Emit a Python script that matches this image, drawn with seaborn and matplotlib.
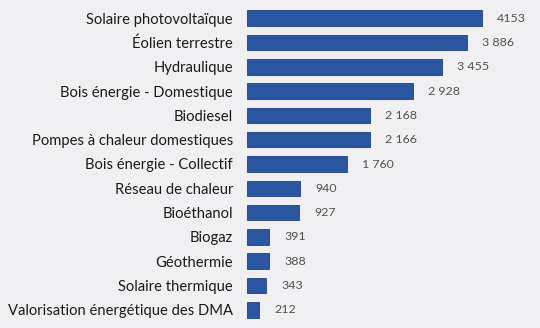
import matplotlib
matplotlib.use("Agg")
import matplotlib.pyplot as plt
import seaborn as sns
import pandas as pd

categories = [
    "Solaire photovoltaïque",
    "Éolien terrestre",
    "Hydraulique",
    "Bois énergie - Domestique",
    "Biodiesel",
    "Pompes à chaleur domestiques",
    "Bois énergie - Collectif",
    "Réseau de chaleur",
    "Bioéthanol",
    "Biogaz",
    "Géothermie",
    "Solaire thermique",
    "Valorisation énergétique des DMA",
]
values = [4153, 3886, 3455, 2928, 2168, 2166, 1760, 940, 927, 391, 388, 343, 212]
value_labels = ["4153", "3\u00a0886", "3\u00a0455", "2\u00a0928", "2\u00a0168", "2\u00a0166",
                "1\u00a0760", "940", "927", "391", "388", "343", "212"]

df = pd.DataFrame({"cat": categories, "val": values})

sns.set_theme(style="white")
plt.rcParams["font.family"] = ["Lato", "DejaVu Sans"]

bg = "#f0f0f2"
bar_color = "#2a56a2"

fig = plt.figure(figsize=(5.4, 3.28), dpi=100, facecolor=bg)
ax = fig.add_axes([247 / 540, 6 / 328, 1 - 247 / 540, 316 / 328], facecolor=bg)

sns.barplot(data=df, y="cat", x="val", orient="h", color=bar_color,
            saturation=1, width=0.64, edgecolor="#1d3f7e", linewidth=0.6, ax=ax)

for i, (v, lab) in enumerate(zip(values, value_labels)):
    ax.annotate(lab, xy=(v, i), xytext=(15, 0), textcoords="offset pixels",
                va="center", ha="left", fontsize=8.9, color="#505050")

ax.set_xlim(0, 5180)
ax.set_ylim(len(categories) - 0.5, -0.5)
ax.set_xlabel("")
ax.set_ylabel("")
ax.set_xticks([])
ax.tick_params(axis="y", length=0, pad=10, labelsize=10.6, labelcolor="#1a1a1a")
for s in ax.spines.values():
    s.set_visible(False)

fig.savefig("out.png", dpi=100, facecolor=bg)
